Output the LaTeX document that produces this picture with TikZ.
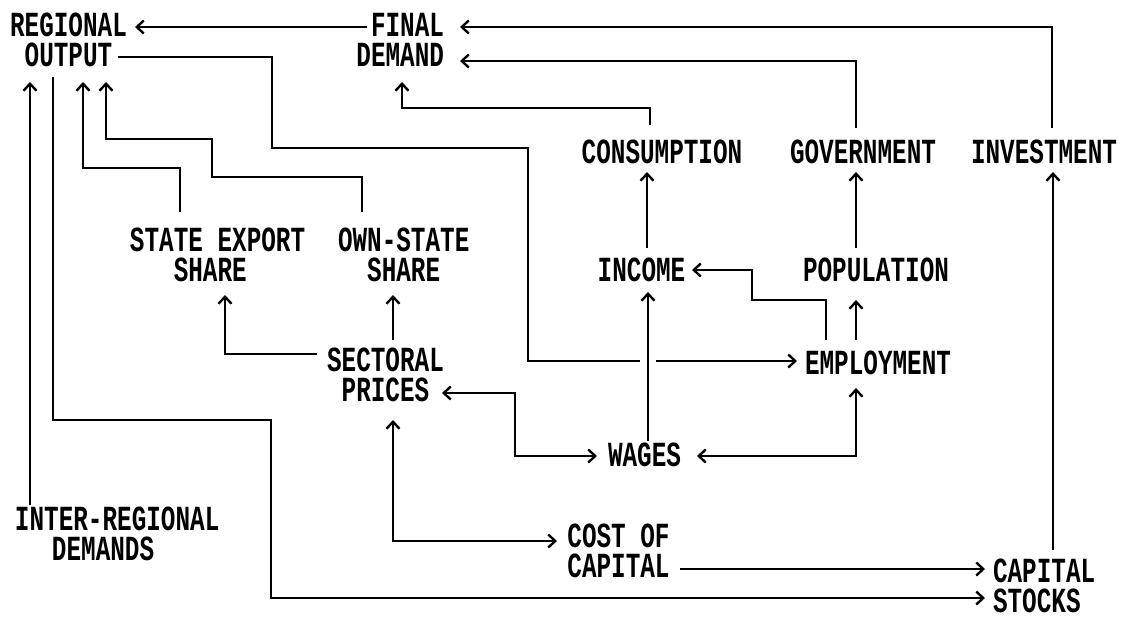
\documentclass[tikz,border=0pt]{standalone}
\usepackage{fontspec}
\usepackage{graphicx}
\newfontfamily\dmfont{Liberation Mono}
\usetikzlibrary{arrows.meta,calc}
\newcommand\capscale{1.45}
\newcommand\rowgap{4.8pt}
\newcommand\txt[2][c]{\scalebox{1}[\capscale]{\renewcommand\arraystretch{0}\begin{tabular}{@{}#1@{}}#2\end{tabular}}}
\begin{document}
\begin{tikzpicture}[x=1pt,y=-1pt,
  lbl/.style={inner sep=0pt,outer sep=0pt,font=\dmfont\bfseries\fontsize{24.33}{24}\selectfont},
  conn/.style={line width=2pt,line cap=butt,line join=miter},
  tip/.tip={Straight Barb[length=7pt,width=13pt,line width=2.4pt]},
  arr/.style={conn,-tip},
  darr/.style={conn,tip-tip}]
\fill[white] (0,0) rectangle (1121,618);
\useasboundingbox (0,0) rectangle (1121,618);
% nodes
\node[lbl] (reg)   at (68.5,40)   {\txt{REGIONAL\\[\rowgap]OUTPUT}};
\node[lbl] (fin)   at (400.2,40)  {\txt[r]{FINAL\\[\rowgap]DEMAND}};
\node[lbl] (cons)  at (662,152)   {\txt{CONSUMPTION}};
\node[lbl] (gov)   at (863,152)   {\txt{GOVERNMENT}};
\node[lbl] (inv)   at (1044,152)  {\txt{INVESTMENT}};
\node[lbl] (sexp)  at (217.6,255) {\txt[l]{STATE EXPORT\\[\rowgap]\hspace*{43.8pt}SHARE}};
\node[lbl] (own)   at (403.7,255) {\txt{OWN-STATE\\[\rowgap]SHARE}};
\node[lbl] (sect)  at (385.5,375) {\txt{SECTORAL\\[\rowgap]PRICES}};
\node[lbl] (inc)   at (641.5,270) {\txt{INCOME}};
\node[lbl] (pop)   at (876,270)   {\txt{POPULATION}};
\node[lbl] (emp)   at (878,363)   {\txt{EMPLOYMENT}};
\node[lbl] (wag)   at (644.5,455) {\txt{WAGES}};
\node[lbl] (cost)  at (618.5,551) {\txt{COST OF\\[\rowgap]CAPITAL}};
\node[lbl] (capst) at (1044.1,586){\txt[l]{CAPITAL\\[\rowgap]STOCKS}};
\node[lbl] (inter) at (117.2,534) {\txt[l]{INTER-REGIONAL\\[\rowgap]\hspace*{37pt}DEMANDS}};
% connectors
\draw[arr] ($(fin)+(-33.2,-13)$) -- ($(reg)+(66.5,-13)$);
\draw[arr] ($(reg)+(49.5,17)$) -- (272,57) -- (272,148) -- (528,148) -- (528,361) -- ($(emp)+(-81,-2)$);
\fill[white] (640,354) rectangle (656,368);
\draw[arr] ($(inter)+(-87.2,-29)$) -- ($(reg)+(-38.5,42)$);
\draw[arr] ($(reg)+(-15.5,37)$) -- (53,420) -- (271,420) -- (271,598) -- ($(capst)+(-59.1,12)$);
\draw[arr] ($(sexp)+(-37.6,-43)$) -- (180,168) -- (83,168) -- ($(reg)+(14.5,42)$);
\draw[arr] ($(own)+(-41.7,-43)$) -- (362,177) -- (212,177) -- (212,139) -- (106,139) -- ($(reg)+(37.5,42)$);
\draw[arr] ($(cons)+(-12,-27)$) -- (650,108) -- (402,108) -- ($(fin)+(1.8,42)$);
\draw[arr] ($(gov)+(-7,-24)$) -- (856,61) -- ($(fin)+(59.8,21)$);
\draw[arr] ($(inv)+(8,-24)$) -- (1052,27) -- ($(fin)+(59.8,-13)$);
\draw[arr] ($(inc)+(5.5,-22)$) -- ($(cons)+(-15,20)$);
\draw[arr] ($(pop)+(-20,-22)$) -- ($(gov)+(-7,20)$);
\draw[arr] ($(emp)+(-52,-23)$) -- (826,300) -- (752,300) -- (752,270) -- ($(inc)+(50.5,0)$);
\draw[arr] ($(emp)+(-22,-23)$) -- ($(pop)+(-20,30)$);
\draw[darr] ($(wag)+(52.5,1)$) -- (856,456) -- ($(emp)+(-22,25)$);
\draw[arr] ($(wag)+(3.5,-14)$) -- ($(inc)+(6.5,22)$);
\draw[darr] ($(sect)+(56.5,18)$) -- (515,393) -- (515,456) -- ($(wag)+(-47.5,1)$);
\draw[arr] ($(sect)+(-68.5,-21)$) -- (225,354) -- ($(sexp)+(7.4,40)$);
\draw[arr] ($(sect)+(7.5,-35)$) -- ($(own)+(-10.7,40)$);
\draw[darr] ($(sect)+(7.5,45)$) -- (393,541) -- ($(cost)+(-61.5,-10)$);
\draw[arr] ($(cost)+(61.5,18)$) -- ($(capst)+(-59.1,-17)$);
\draw[arr] ($(capst)+(8.9,-36)$) -- ($(inv)+(9,20)$);
\end{tikzpicture}
\end{document}
